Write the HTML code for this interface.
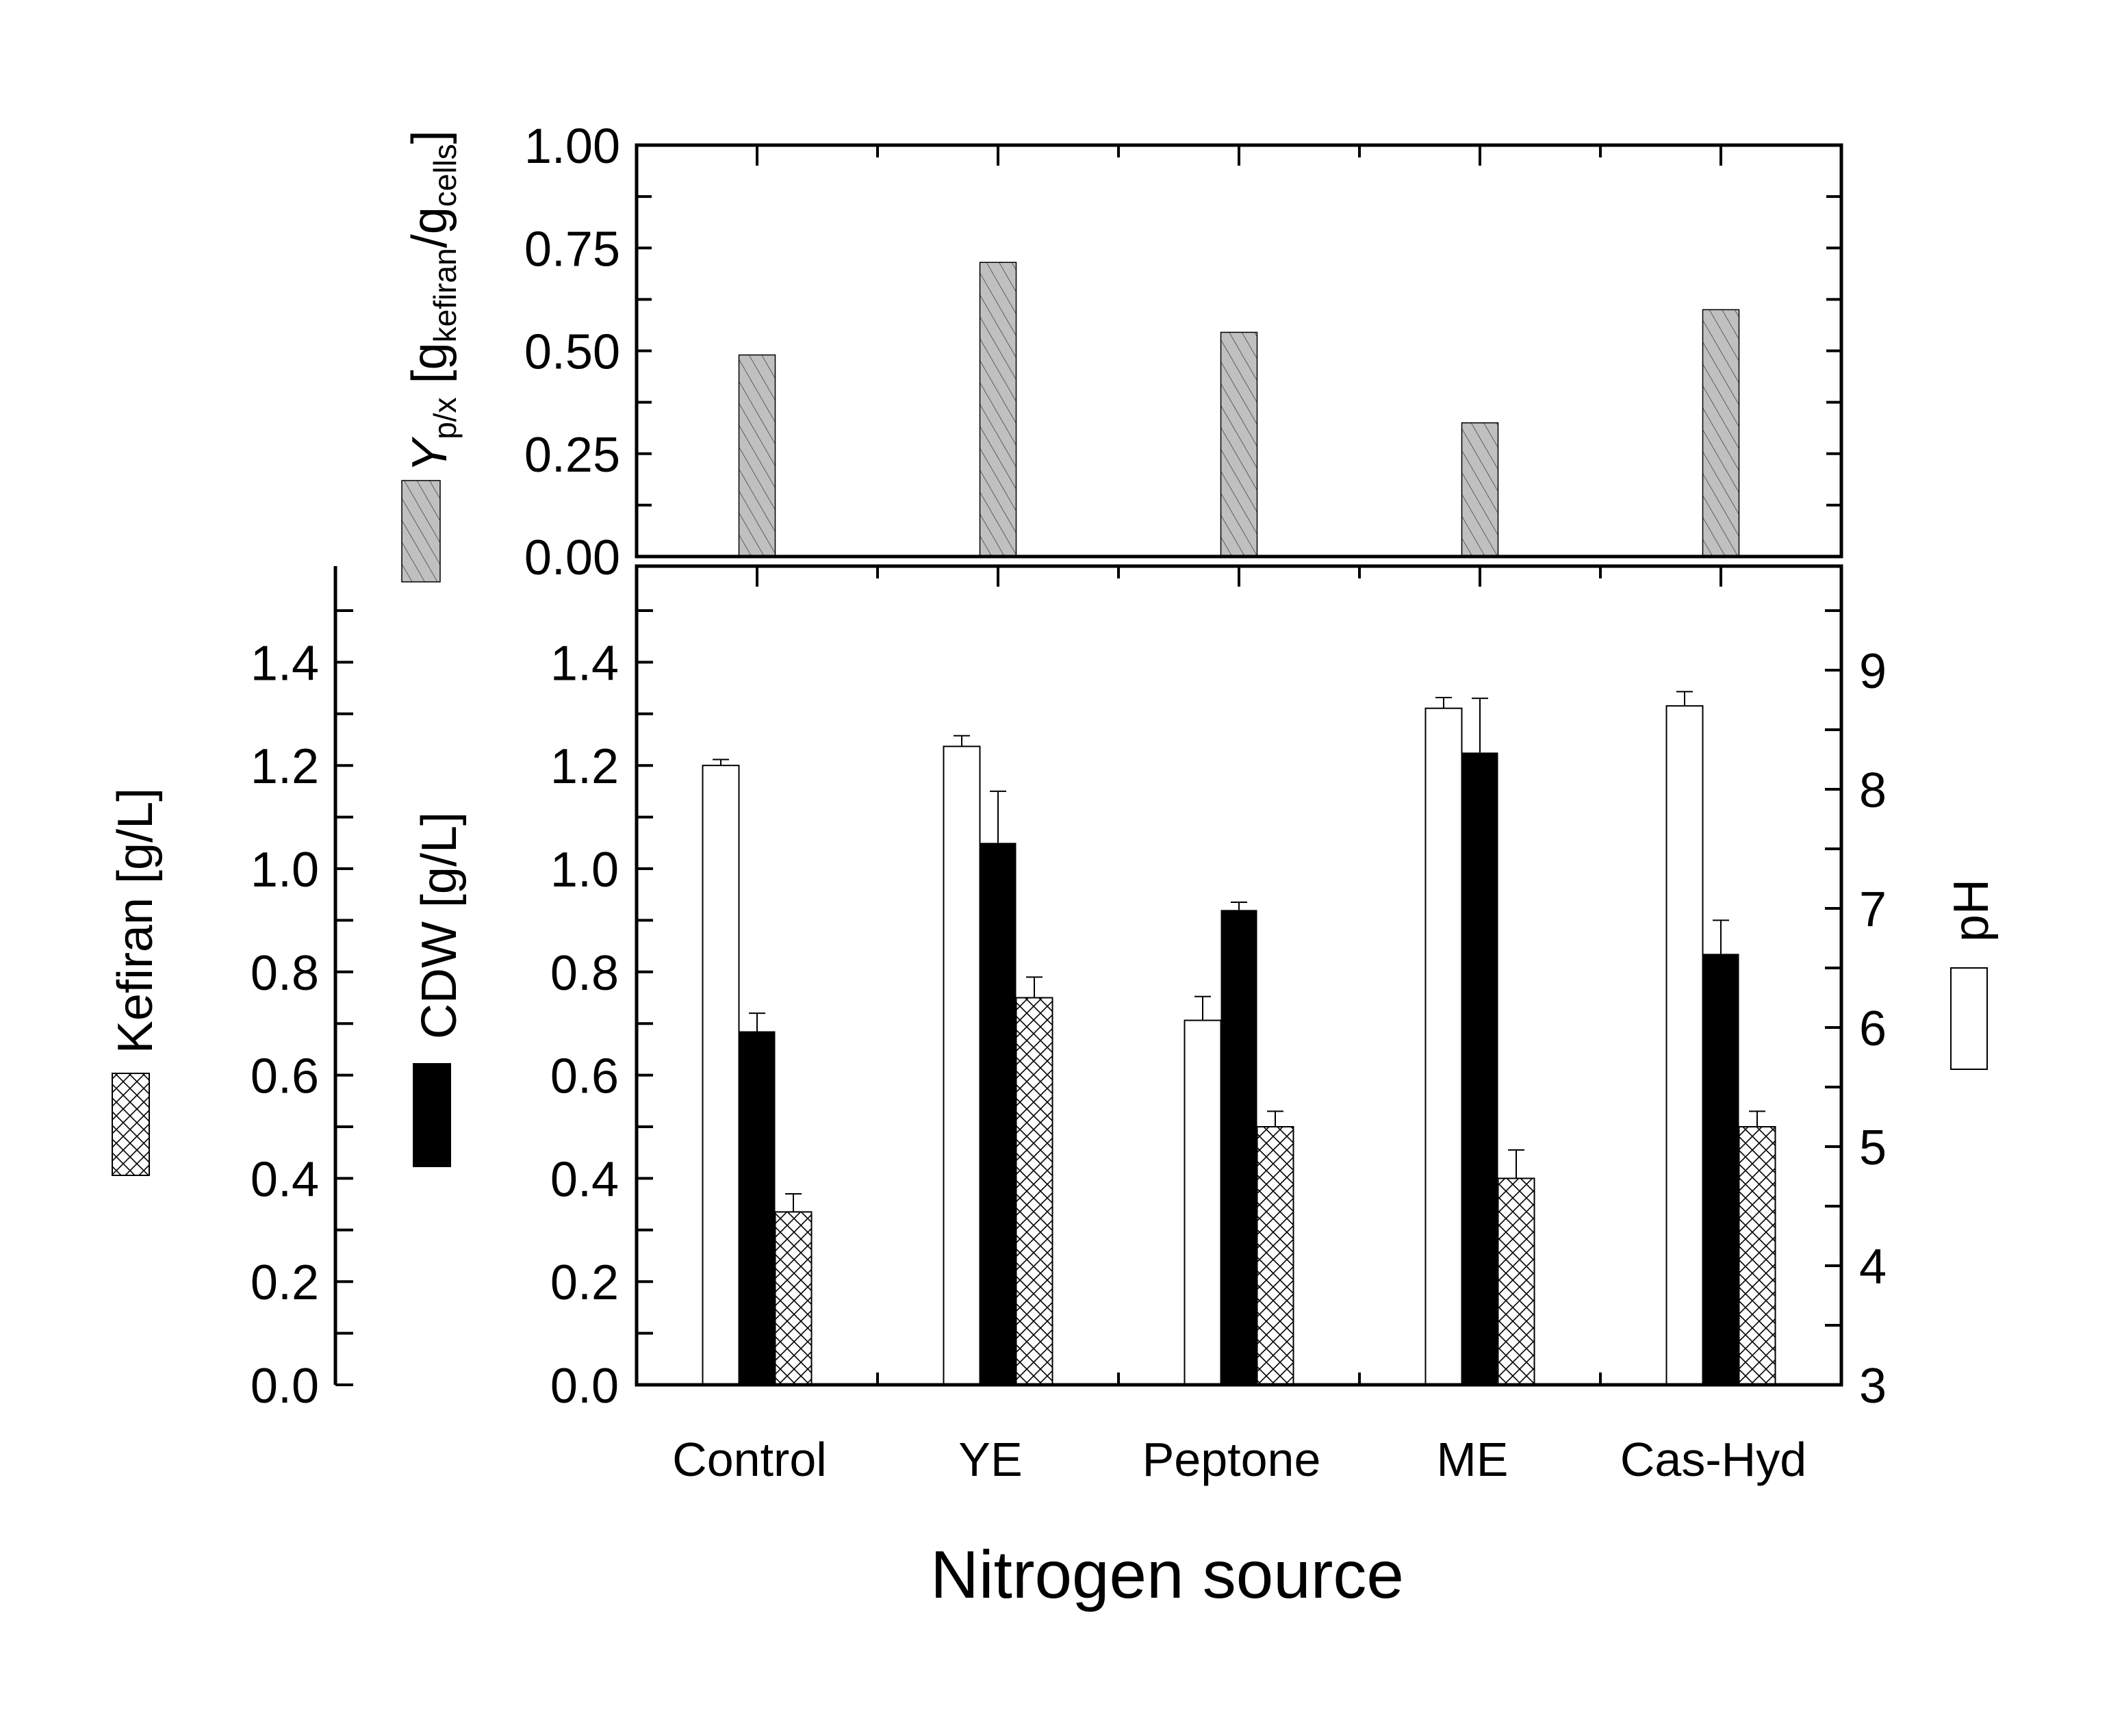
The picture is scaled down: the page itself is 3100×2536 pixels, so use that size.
<!DOCTYPE html>
<html><head><meta charset="utf-8"><style>
html,body{margin:0;padding:0;background:#fff}
svg{display:block;font-family:"Liberation Sans",Arial,sans-serif}
</style></head><body>
<svg id="chart" width="3100" height="2536" viewBox="0 0 3100 2536" xmlns="http://www.w3.org/2000/svg">
<defs>
<pattern id="cross" patternUnits="userSpaceOnUse" width="20" height="20">
<rect width="20" height="20" fill="#fff"/>
<path d="M0,0 L20,20 M20,0 L0,20" stroke="#000" stroke-width="1.6"/>
</pattern>
<pattern id="diag" patternUnits="userSpaceOnUse" width="16" height="16" patternTransform="rotate(-30)">
<rect width="16" height="16" fill="#c0c0c0"/>
<path d="M0,0 L0,16" stroke="#333" stroke-width="1.4"/>
</pattern>
</defs>
<g id="g-top"></g>
<g id="g-bot"></g>
<g id="g-text">
<text x="1705" y="2334" font-size="98" text-anchor="middle">Nitrogen source</text>
<text transform="translate(222,1345) rotate(-90)" font-size="72" text-anchor="middle">Kefiran [g/L]</text>
<text transform="translate(666,1352) rotate(-90)" font-size="72" text-anchor="middle">CDW [g/L]</text>
<text transform="translate(652,440) rotate(-90)" font-size="72" text-anchor="middle"><tspan font-style="italic">Y</tspan><tspan font-size="46" dy="14">p/x</tspan><tspan dy="-14"> [g</tspan><tspan font-size="46" dy="14">kefiran</tspan><tspan dy="-14">/g</tspan><tspan font-size="46" dy="14">cells</tspan><tspan dy="-14">]</tspan></text>
<text transform="translate(2904,1330) rotate(-90)" font-size="72" text-anchor="middle">pH</text>
<rect x="164" y="1568" width="54" height="149" fill="url(#cross)" stroke="#000" stroke-width="2"/>
<rect x="603" y="1553" width="56" height="152" fill="#000"/>
<rect x="587" y="702" width="56" height="148" fill="url(#diag)" stroke="#000" stroke-width="1.5"/>
<rect x="2850" y="1414" width="53" height="148" fill="#fff" stroke="#000" stroke-width="2"/>
</g>
</svg>
<script>
const categories = ["Control","YE","Peptone","ME","Cas-Hyd"];
const yieldVals = [0.49,0.715,0.545,0.325,0.60];
const phVals = [8.20,8.36,6.06,8.68,8.70];
const phErr = [0.05,0.09,0.20,0.09,0.12];
const cdwVals = [0.685,1.05,0.92,1.225,0.835];
const cdwErr = [0.035,0.10,0.015,0.105,0.065];
const kefVals = [0.335,0.75,0.50,0.40,0.50];
const kefErr = [0.035,0.04,0.03,0.055,0.03];
const yieldTicks = ["0.00","0.25","0.50","0.75","1.00"];
const gTicks = ["0.0","0.2","0.4","0.6","0.8","1.0","1.2","1.4"];
const phTicks = ["3","4","5","6","7","8","9"];

const NS="http://www.w3.org/2000/svg";
const L=930,R=2690,TT=212,TB=813,BT=827,BB=2023;
const step=(R-L)/categories.length;
const xC=i=>L+step*(i+0.5);
const yTop=v=>TB-(TB-TT)*v;
const yG=v=>BB-754*v;
const yPH=v=>BB-174*(v-3);
const BW=53;
function mk(parent,tag,attrs){const e=document.createElementNS(NS,tag);for(const k in attrs)e.setAttribute(k,attrs[k]);parent.appendChild(e);return e;}
const gt=document.getElementById('g-top'), gb=document.getElementById('g-bot');
function line(p,x1,y1,x2,y2,w){return mk(p,'line',{x1,y1,x2,y2,stroke:'#000','stroke-width':w});}

yieldVals.forEach((v,i)=>{
 const r=mk(gt,'rect',{x:xC(i)-BW/2,y:yTop(v),width:BW,height:TB-yTop(v),fill:'url(#diag)',stroke:'#000','stroke-width':1.5});
 
 
});
function errbar(p,x,yv,ye){line(p,x,yv,x,ye,2);line(p,x-12,ye,x+12,ye,2);}
categories.forEach((c,i)=>{
 const cx=xC(i);
 errbar(gb,cx-BW,yPH(phVals[i]),yPH(phVals[i]+phErr[i]));
 const a=mk(gb,'rect',{x:cx-1.5*BW,y:yPH(phVals[i]),width:BW,height:BB-yPH(phVals[i]),fill:'#fff',stroke:'#000','stroke-width':2});
 
 
 errbar(gb,cx,yG(cdwVals[i]),yG(cdwVals[i]+cdwErr[i]));
 const b=mk(gb,'rect',{x:cx-BW/2,y:yG(cdwVals[i]),width:BW,height:BB-yG(cdwVals[i]),fill:'#000'});
 
 
 errbar(gb,cx+BW,yG(kefVals[i]),yG(kefVals[i]+kefErr[i]));
 const k=mk(gb,'rect',{x:cx+BW/2,y:yG(kefVals[i]),width:BW,height:BB-yG(kefVals[i]),fill:'url(#cross)',stroke:'#000','stroke-width':2});
 
 
 const t=mk(gb,'text',{x:cx-11,y:2156,'font-size':70,'text-anchor':'middle'});
 t.textContent=c;
 
 
});
mk(gt,'rect',{x:L,y:TT,width:R-L,height:TB-TT,fill:'none',stroke:'#000','stroke-width':5});
mk(gb,'rect',{x:L,y:BT,width:R-L,height:BB-BT,fill:'none',stroke:'#000','stroke-width':5});
for(let i=1;i<categories.length*2;i++){
 const x=L+step*i/2;
 const len=(i%2===1)?30:18;
 line(gt,x,TT,x,TT+len,4); line(gb,x,BT,x,BT+len,4);
 if(i%2===0) line(gb,x,BB,x,BB-18,4);
}
for(let k=0;k<=8;k++){const y=yTop(k*0.125);line(gt,L,y,L+22,y,4);line(gt,R,y,R-22,y,4);}
yieldTicks.forEach(s=>{const t=mk(gt,'text',{x:906,y:yTop(parseFloat(s))+26,'font-size':72,'text-anchor':'end'});t.textContent=s;
 
 });
line(gb,490,BT,490,BB,5);
for(let k=0;k<=15;k++){const y=yG(k*0.1);line(gb,L,y,L+24,y,4);line(gb,490,y,516,y,4);}
gTicks.forEach(s=>{
 const v=parseFloat(s);
 const t=mk(gb,'text',{x:904,y:yG(v)+26,'font-size':72,'text-anchor':'end'});t.textContent=s;
 
 
 const t2=mk(gb,'text',{x:466,y:yG(v)+26,'font-size':72,'text-anchor':'end'});t2.textContent=s;
 
 
});
for(let k=0;k<=13;k++){const y=yPH(3+k*0.5);if(y<BT)continue;line(gb,R,y,R-24,y,4);}
phTicks.forEach(s=>{const t=mk(gb,'text',{x:2716,y:yPH(parseFloat(s))+26,'font-size':72});t.textContent=s;
 
 });
</script>
</body></html>
